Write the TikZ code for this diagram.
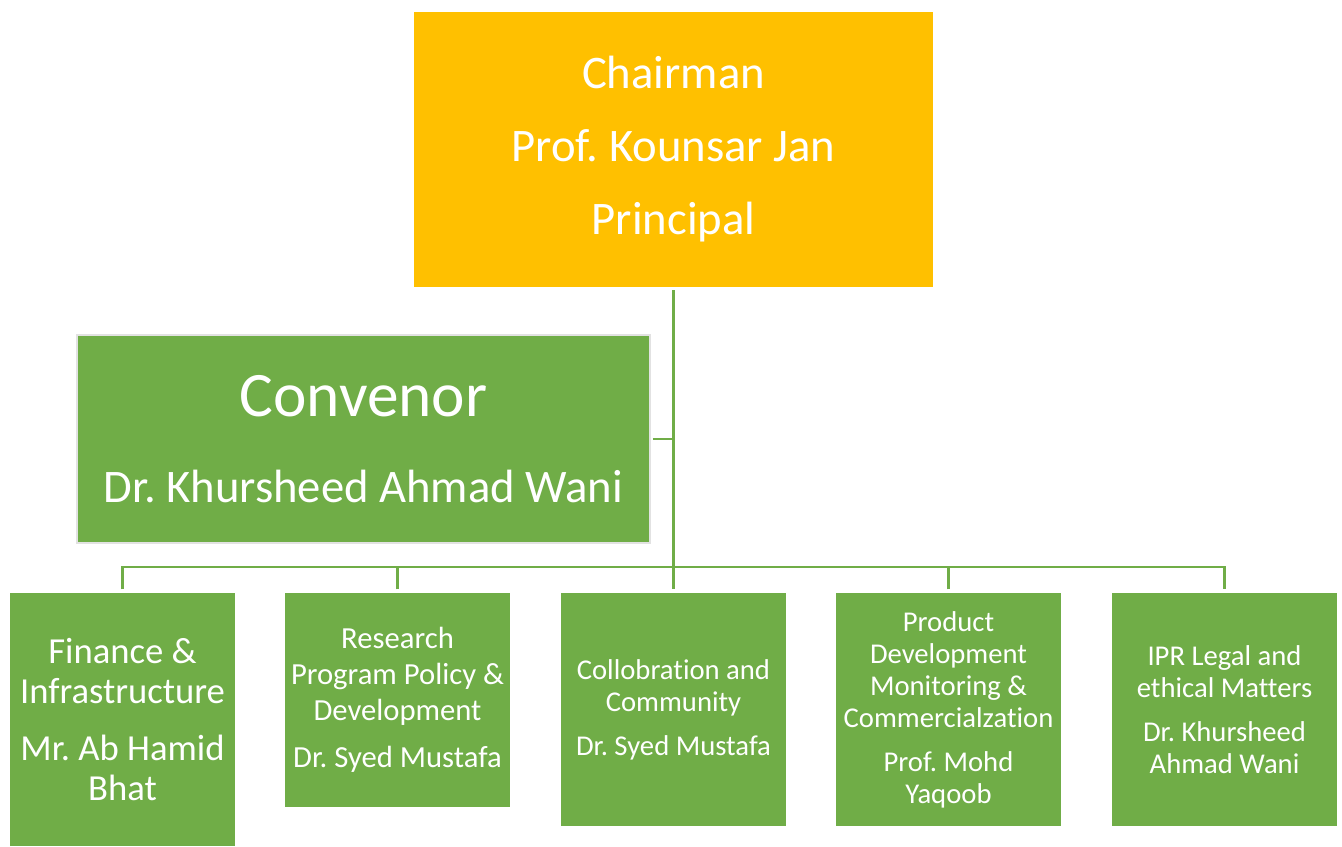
\documentclass[tikz,border=0pt]{standalone}
\usepackage{fontspec}
\setmainfont{Carlito}[Ligatures=NoCommon]
\frenchspacing
\definecolor{gold}{HTML}{FFC000}
\definecolor{leaf}{HTML}{70AD47}
\definecolor{rim}{HTML}{E2E2E2}
\tikzset{
  box/.style={rectangle, inner sep=0pt, text=white, align=center, anchor=center},
  conn/.style={draw=leaf, line width=2.2pt},
}
\newcommand{\fsz}[2]{\fontsize{#1}{#2}\selectfont}
\begin{document}
\begin{tikzpicture}[x=0.75pt,y=-0.75pt]
\useasboundingbox (0,0) rectangle (1342,846);
\fill[white] (0,0) rectangle (1342,846);
% top
\node[box, fill=gold, minimum width=389.25pt, minimum height=206.25pt, font=\fsz{35}{55}] (chair) at (673.5,149) {Chairman\\Prof. Kounsar Jan\\Principal};
% convenor
\node[box, fill=leaf, draw=rim, line width=2.2pt, minimum width=429.75pt, minimum height=156pt, font=\fsz{35}{65}] (conv) at (363.5,439)
  {{\fsz{47.5}{65}Convenor}\\Dr. Khursheed Ahmad Wani};
% bottom row
\node[box, fill=leaf, minimum width=168.75pt, minimum height=189.75pt, font=\fsz{27.5}{30}] (b1) at (122.5,719.5)
  {Finance \&\\Infrastructure\\[13pt]Mr. Ab Hamid\\Bhat};
\node[box, fill=leaf, minimum width=168.75pt, minimum height=160.5pt, font=\fsz{23}{27}] (b2) at (397.5,700)
  {Research\\Program Policy \&\\Development\\[8pt]Dr. Syed Mustafa};
\node[box, fill=leaf, minimum width=168.75pt, minimum height=174.75pt, font=\fsz{21.5}{24}] (b3) at (673.5,709.5)
  {Collobration and\\Community\\[9pt]Dr. Syed Mustafa};
\node[box, fill=leaf, minimum width=168.75pt, minimum height=174.75pt, font=\fsz{21.5}{24}] (b4) at (948.5,709.5)
  {Product\\Development\\Monitoring \&\\Commercialzation\\[9pt]Prof. Mohd\\Yaqoob};
\node[box, fill=leaf, minimum width=168.75pt, minimum height=174.75pt, font=\fsz{21.5}{24}] (b5) at (1224.5,709.5)
  {IPR Legal and\\ethical Matters\\[9pt]Dr. Khursheed\\Ahmad Wani};
% connectors
\coordinate (bar) at (673.5,567);
\draw[conn, shorten <=2.5pt, shorten >=2.5pt] (chair.south) -- (b3.north);
\draw[conn, shorten <=1pt] (conv.east) -- (conv.east -| chair.south);
\draw[conn, shorten <=2.5pt, shorten >=2.5pt] (b1.north) |- (bar) -| (b5.north);
\draw[conn, shorten <=2.5pt] (b2.north) -- (b2.north |- bar);
\draw[conn, shorten <=2.5pt] (b4.north) -- (b4.north |- bar);
\end{tikzpicture}
\end{document}
